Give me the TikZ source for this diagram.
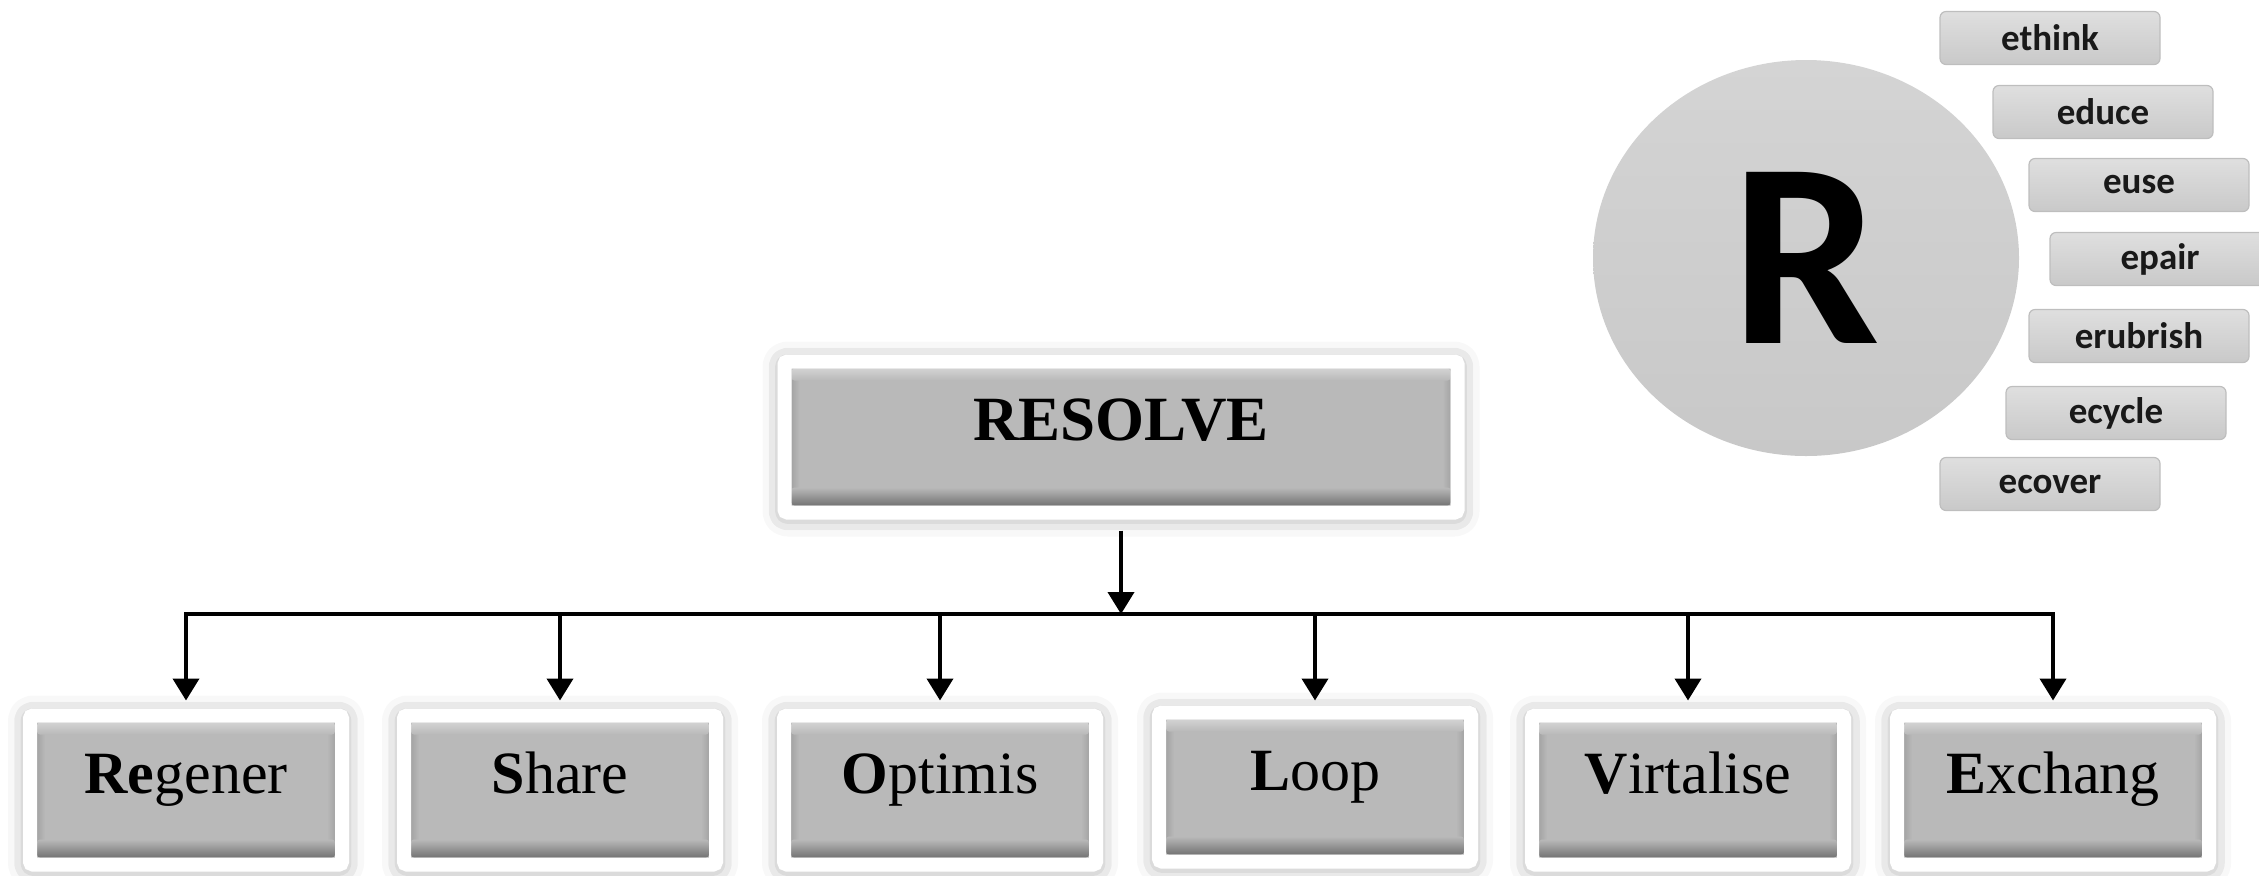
\documentclass[tikz,border=0pt]{standalone}
\usepackage{fontspec}
\setmainfont{Liberation Serif}
\newfontfamily\carlito{Carlito}
\usetikzlibrary{arrows.meta,positioning,calc,shapes.geometric,shadows.blur}
\definecolor{boxgray}{HTML}{B9B9B9}
\definecolor{bevdark}{HTML}{737373}
\definecolor{bevlight}{HTML}{D2D2D2}
\definecolor{bevside}{HTML}{A4A4A4}
\definecolor{disctop}{HTML}{D4D4D4}
\definecolor{discbottom}{HTML}{C8C8C8}
\definecolor{pilltop}{HTML}{DFDFDF}
\definecolor{pillbottom}{HTML}{C9C9C9}
\definecolor{pilledge}{HTML}{BEBEBE}
\tikzset{
  bevel/.style={path picture={
    \path (path picture bounding box.south west) ++(3.5pt,3.5pt) coordinate (sw)
          (path picture bounding box.north east) ++(-3.5pt,-3.5pt) coordinate (ne);
    \shade[left color=bevside,right color=boxgray] (sw) rectangle ($(sw |- ne)+(4pt,0)$);
    \shade[left color=boxgray,right color=bevside] (ne) rectangle ($(ne |- sw)+(-4pt,0)$);
    \shade[top color=boxgray,bottom color=bevdark] (sw) rectangle ($(ne |- sw)+(0,9pt)$);
    \shade[top color=bevlight,bottom color=boxgray] (ne) rectangle ($(sw |- ne)+(0,-6pt)$);
  }},
  box/.style={rectangle,fill=boxgray,draw=white,line width=7pt,rounded corners=1.5pt,bevel,
    blur shadow={shadow xshift=0pt,shadow yshift=-1pt,shadow blur radius=11pt,shadow opacity=45},
    align=center,inner sep=0pt,text height=0.68em,text depth=0.38em},
  headbox/.style={box,minimum width=336.5pt,minimum height=75.5pt,font=\fontsize{31.5}{36}\selectfont\bfseries},
  leafbox/.style={box,minimum width=156pt,minimum height=74.5pt,font=\fontsize{30}{34}\selectfont},
  disc/.style={ellipse,top color=disctop,bottom color=discbottom,
    minimum width=213pt,minimum height=198pt,inner sep=0pt,font=\carlito\bfseries\fontsize{132}{140}\selectfont},
  pill/.style={rectangle,rounded corners=3pt,draw=pilledge,line width=0.6pt,top color=pilltop,bottom color=pillbottom,
    minimum width=110pt,minimum height=26.5pt,inner sep=0pt,text=black!90,font=\carlito\bfseries\fontsize{18.5}{22}\selectfont},
  flow/.style={-{Triangle[width=13pt,length=11pt]},line width=2pt,draw=black}
}
\begin{document}
\begin{tikzpicture}[x=0.5pt,y=-0.5pt]
  \path[use as bounding box] (0,0) rectangle (2259,875);
  % the R disc and its words
  \node[disc] (rdisc) at (1806,258) {R};
  \node[pill] (ethink) at (2050,38) {ethink};
  \node[pill] (educe) at (2103,112) {educe};
  \node[pill] (euse) at (2139,185) {euse};
  \node[pill] (epair) at (2160,259) {epair};
  \node[pill] (erubrish) at (2139,336) {erubrish};
  \node[pill] (ecycle) at (2116,413) {ecycle};
  \node[pill] (ecover) at (2050,484) {ecover};
  % tree
  \node[headbox] (resolve) at (1121,437) {RESOLVE};
  \node[leafbox] (regener) at (186,790) {\textbf{Re}gener};
  \node[leafbox] (share) at (560,790) {\textbf{S}hare};
  \node[leafbox] (optimis) at (940,790) {\textbf{O}ptimis};
  \node[leafbox] (loop) at (1315,787) {\textbf{L}oop};
  \node[leafbox] (virtalise) at (1688,790) {\textbf{V}irtalise};
  \node[leafbox] (exchang) at (2053,790) {\textbf{E}xchang};
  \coordinate (busline) at (0,614);
  \coordinate (bus) at (resolve.south |- busline);
  \draw[flow,shorten <=5.5pt] (resolve.south) -- (bus);
  \draw[flow,shorten >=4pt] (bus) -| (regener.north);
  \draw[flow,shorten >=4pt] (bus) -| (share.north);
  \draw[flow,shorten >=4pt] (bus) -| (optimis.north);
  \draw[flow,shorten >=2.5pt] (bus) -| (loop.north);
  \draw[flow,shorten >=4pt] (bus) -| (virtalise.north);
  \draw[flow,shorten >=4pt] (bus) -| (exchang.north);
\end{tikzpicture}
\end{document}
